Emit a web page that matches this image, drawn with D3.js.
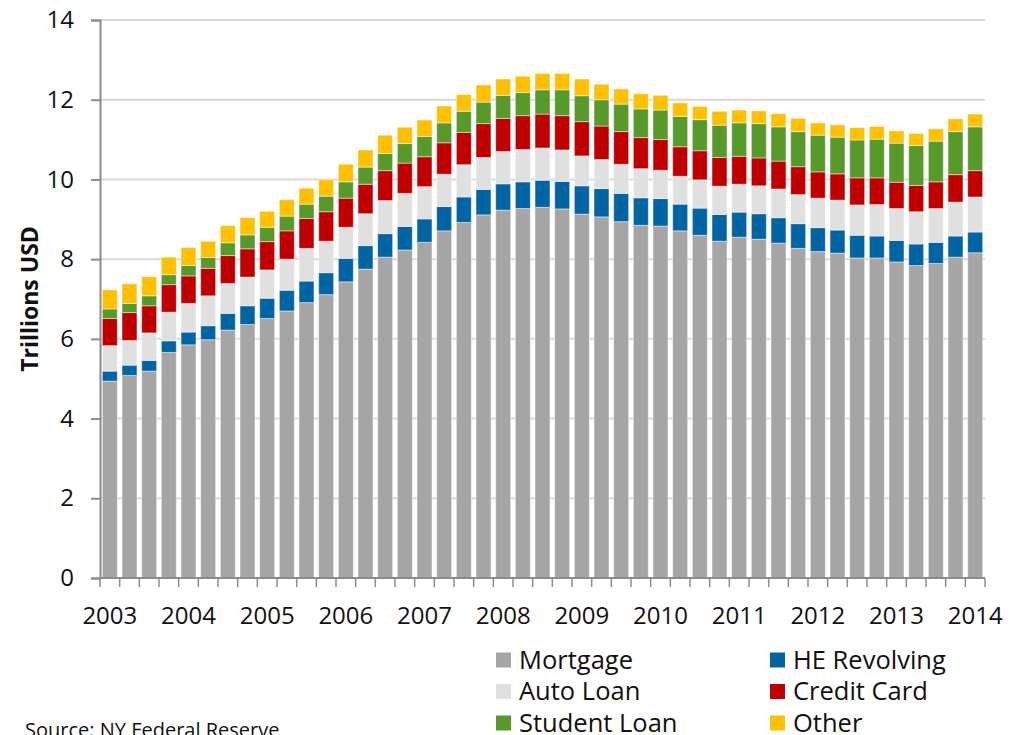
<!DOCTYPE html>
<html>
<head>
<meta charset="utf-8">
<script src="https://cdn.jsdelivr.net/npm/d3@7"></script>
<style>
  body { margin: 0; background: #fff; }
  text { font-family: "Open Sans", "DejaVu Sans", sans-serif; fill: #111; }
</style>
</head>
<body>
<div id="chart"></div>
<script>
// quarters 2003Q1 .. 2014Q1
var years = [2003, 2004, 2005, 2006, 2007, 2008, 2009, 2010, 2011, 2012, 2013, 2014];
var quarters = [];
years.forEach(function(y){
  for (var q = 1; q <= 4; q++) {
    if (y == 2014 && q > 1) break;
    quarters.push(y + 'Q' + q);
  }
});

var seriesNames = ['Mortgage', 'HE Revolving', 'Auto Loan', 'Credit Card', 'Student Loan', 'Other'];
var seriesColors = ['#a5a5a5', '#0065a2', '#e0e0e0', '#c00000', '#579a29', '#ffc000'];

var mortgage = [4.94, 5.08, 5.19, 5.66, 5.85, 5.98, 6.22, 6.36, 6.51, 6.70, 6.91, 7.11, 7.43, 7.75, 8.05,
  8.23, 8.42, 8.71, 8.92, 9.11, 9.23, 9.27, 9.30, 9.26, 9.13, 9.06, 8.94, 8.85, 8.83, 8.71,
  8.60, 8.45, 8.55, 8.50, 8.40, 8.27, 8.19, 8.15, 8.03, 8.03, 7.93, 7.84, 7.89, 8.05, 8.16];
var heRevolving = [0.25, 0.26, 0.27, 0.29, 0.32, 0.35, 0.42, 0.47, 0.51, 0.52, 0.54, 0.55, 0.59, 0.59, 0.59,
  0.59, 0.59, 0.61, 0.64, 0.64, 0.66, 0.67, 0.68, 0.69, 0.71, 0.71, 0.71, 0.69, 0.69, 0.67,
  0.68, 0.67, 0.63, 0.64, 0.64, 0.62, 0.60, 0.58, 0.57, 0.55, 0.54, 0.54, 0.53, 0.53, 0.52];
var autoLoan = [0.64, 0.62, 0.69, 0.72, 0.72, 0.75, 0.75, 0.72, 0.71, 0.78, 0.82, 0.79, 0.78, 0.80, 0.83,
  0.83, 0.81, 0.81, 0.81, 0.80, 0.81, 0.81, 0.81, 0.79, 0.75, 0.73, 0.73, 0.73, 0.71, 0.70,
  0.71, 0.71, 0.70, 0.70, 0.72, 0.73, 0.74, 0.75, 0.76, 0.79, 0.80, 0.81, 0.85, 0.85, 0.88];
var creditCard = [0.68, 0.70, 0.68, 0.69, 0.69, 0.69, 0.70, 0.71, 0.71, 0.71, 0.75, 0.74, 0.73, 0.74, 0.75,
  0.76, 0.75, 0.79, 0.81, 0.85, 0.83, 0.85, 0.85, 0.86, 0.86, 0.84, 0.82, 0.78, 0.77, 0.74,
  0.73, 0.72, 0.70, 0.70, 0.70, 0.70, 0.66, 0.66, 0.68, 0.67, 0.66, 0.66, 0.67, 0.69, 0.66];
var studentLoan = [0.24, 0.23, 0.25, 0.25, 0.26, 0.27, 0.32, 0.35, 0.36, 0.37, 0.36, 0.39, 0.41, 0.43, 0.43,
  0.49, 0.51, 0.50, 0.53, 0.54, 0.58, 0.58, 0.61, 0.65, 0.65, 0.66, 0.69, 0.72, 0.74, 0.76,
  0.78, 0.81, 0.84, 0.86, 0.86, 0.88, 0.92, 0.92, 0.95, 0.97, 0.98, 1.00, 1.02, 1.08, 1.10];
var other = [0.48, 0.49, 0.48, 0.44, 0.45, 0.41, 0.43, 0.43, 0.40, 0.41, 0.40, 0.41, 0.44, 0.43, 0.46,
  0.41, 0.41, 0.42, 0.42, 0.43, 0.41, 0.41, 0.41, 0.41, 0.42, 0.39, 0.38, 0.38, 0.37, 0.34,
  0.33, 0.35, 0.32, 0.32, 0.33, 0.33, 0.31, 0.31, 0.31, 0.32, 0.31, 0.30, 0.31, 0.32, 0.32];

var yTicks = [0, 2, 4, 6, 8, 10, 12, 14];

var seriesValues = [mortgage, heRevolving, autoLoan, creditCard, studentLoan, other];

// table for d3.stack
var rows = quarters.map(function(q, i){
  var row = { quarter: q };
  seriesNames.forEach(function(name, s){ row[name] = seriesValues[s][i]; });
  return row;
});

var width = 1017, height = 735;
var margin = { left: 100, right: 32, top: 20, bottom: 157 };

var svg = d3.select('#chart').append('svg')
  .attr('width', width)
  .attr('height', height);

var x = d3.scaleBand()
  .domain(quarters)
  .range([margin.left, width - margin.right])
  .paddingInner(0.24)
  .paddingOuter(0.12);

var y = d3.scaleLinear()
  .domain([0, 14])
  .range([height - margin.bottom, margin.top]);

// gridlines
svg.append('g')
  .attr('class', 'grid')
  .selectAll('line')
  .data(yTicks.slice(1))
  .enter().append('line')
  .attr('x1', margin.left)
  .attr('x2', width - margin.right)
  .attr('y1', function(d){ return y(d); })
  .attr('y2', function(d){ return y(d); })
  .attr('stroke', '#d9d9d9')
  .attr('stroke-width', 2);

// stacked bars
var stack = d3.stack().keys(seriesNames);
var layers = stack(rows);

svg.append('g')
  .selectAll('g')
  .data(layers)
  .enter().append('g')
  .attr('fill', function(d, i){ return seriesColors[i]; })
  .selectAll('rect')
  .data(function(d){ return d; })
  .enter().append('rect')
  .attr('x', function(d){ return x(d.data.quarter); })
  .attr('width', x.bandwidth())
  .attr('y', function(d){ return y(d[1]); })
  .attr('height', function(d){ return y(d[0]) - y(d[1]); })
  .attr('stroke', '#ffffff')
  .attr('stroke-opacity', 0.45)
  .attr('stroke-width', 1);

// y axis
var yAxis = d3.axisLeft(y)
  .tickValues(yTicks)
  .tickSize(9)
  .tickPadding(17)
  .tickFormat(d3.format('d'));

var yg = svg.append('g')
  .attr('transform', 'translate(' + margin.left + ',0)')
  .call(yAxis);
yg.select('.domain').attr('stroke', '#8c8c8c').attr('stroke-width', 2);
yg.selectAll('.tick line').attr('stroke', '#8c8c8c').attr('stroke-width', 2);
yg.selectAll('.tick text')
  .style('font-family', '"Open Sans", sans-serif')
  .style('font-size', '24px')
  .attr('fill', '#111');

// x axis: ticks between bars, labels on the Q1 bars
var xb = svg.append('g')
  .attr('transform', 'translate(0,' + y(0) + ')');

xb.append('line')
  .attr('x1', margin.left)
  .attr('x2', width - margin.right)
  .attr('stroke', '#8c8c8c')
  .attr('stroke-width', 2);

var step = x.step();
var edges = quarters.map(function(q){ return x(q) - (step - x.bandwidth()) / 2; });
edges.push(width - margin.right);

xb.selectAll('line.tick')
  .data(edges)
  .enter().append('line')
  .attr('class', 'tick')
  .attr('x1', function(d){ return d; })
  .attr('x2', function(d){ return d; })
  .attr('y1', 0)
  .attr('y2', 9)
  .attr('stroke', '#8c8c8c')
  .attr('stroke-width', 1.5);

xb.selectAll('text')
  .data(years)
  .enter().append('text')
  .attr('x', function(d){ return x(d + 'Q1') + x.bandwidth() / 2; })
  .attr('y', 46)
  .attr('text-anchor', 'middle')
  .style('font-size', '24px')
  .text(function(d){ return d; });

// y axis title
svg.append('text')
  .attr('transform', 'translate(38,' + ((y(0) + y(14)) / 2) + ') rotate(-90)')
  .attr('text-anchor', 'middle')
  .style('font-size', '23px')
  .style('font-weight', 'bold')
  .text('Trillions USD');

// legend, two columns
var legendOrder = [[0, 1], [2, 3], [4, 5]];
var legend = svg.append('g').attr('class', 'legend');
legendOrder.forEach(function(pair, r){
  pair.forEach(function(s, c){
    var lx = 496 + c * 274;
    var ly = 660 + r * 31.5;
    legend.append('rect')
      .attr('x', lx)
      .attr('y', ly - 7.5)
      .attr('width', 15)
      .attr('height', 15)
      .attr('fill', seriesColors[s]);
    legend.append('text')
      .attr('x', lx + 23)
      .attr('y', ly)
      .attr('dy', '0.35em')
      .style('font-size', '25.5px')
      .text(seriesNames[s]);
  });
});

// source note (cut by the bottom edge, as in the original)
svg.append('text')
  .attr('x', 25)
  .attr('y', 737)
  .style('font-size', '20px')
  .text('Source: NY Federal Reserve');
</script>
</body>
</html>
